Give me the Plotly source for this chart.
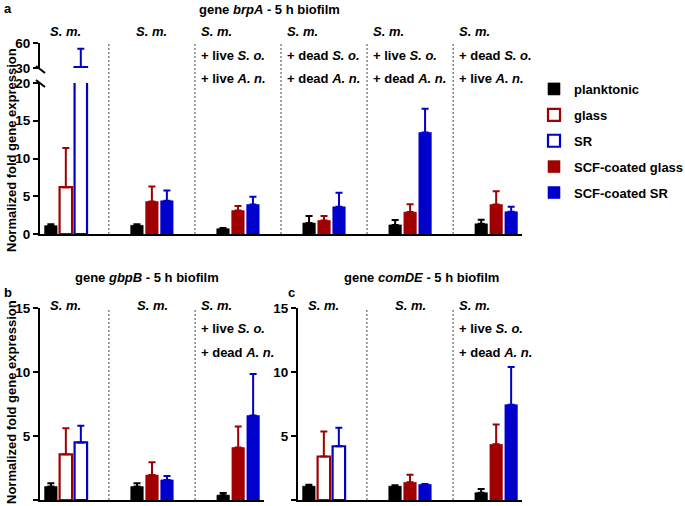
import plotly.graph_objects as go

W, H = 685, 506

# ---------------- data ----------------
series = ["planktonic", "glass", "SR", "SCF-coated glass", "SCF-coated SR"]

# panel a: gene brpA (6 groups)
a_plank = [1.1, 1.15, 0.7, 1.45, 1.2, 1.35]
a_plank_err = [1.28, 1.28, 0.8, 2.4, 1.85, 1.9]
a_glass = [6.2]
a_glass_err = [11.4]
a_sr = [31.0]
a_sr_err = [53.0]
a_scfg = [4.3, 3.1, 1.8, 2.9, 3.9]
a_scfg_err = [6.3, 3.7, 2.4, 3.95, 5.65]
a_scfs = [4.4, 3.9, 3.6, 13.45, 2.95]
a_scfs_err = [5.75, 4.95, 5.45, 16.6, 3.6]

# panel b: gene gbpB (3 groups)
b_plank = [1.05, 1.05, 0.38]
b_plank_err = [1.3, 1.3, 0.55]
b_glass = [3.57]
b_glass_err = [5.6]
b_sr = [4.5]
b_sr_err = [5.8]
b_scfg = [1.95, 4.1]
b_scfg_err = [2.95, 5.75]
b_scfs = [1.57, 6.6]
b_scfs_err = [1.87, 9.85]

# panel c: gene comDE (3 groups)
c_plank = [1.08, 1.08, 0.57]
c_plank_err = [1.2, 1.15, 0.85]
c_glass = [3.4]
c_glass_err = [5.35]
c_sr = [4.2]
c_sr_err = [5.65]
c_scfg = [1.38, 4.35]
c_scfg_err = [1.97, 5.9]
c_scfs = [1.22, 7.45]
c_scfs_err = [1.25, 10.4]

a_groups = [
    ["S. m."], ["S. m."],
    ["S. m.", "+ live S. o.", "+ live A. n."],
    ["S. m.", "+ dead S. o.", "+ dead A. n."],
    ["S. m.", "+ live S. o.", "+ dead A. n."],
    ["S. m.", "+ dead S. o.", "+ live A. n."],
]
bc_groups = [["S. m."], ["S. m."], ["S. m.", "+ live S. o.", "+ dead A. n."]]

a_yticks_low = [0, 5, 10, 15, 20]
a_yticks_high = [30, 60]
bc_yticks = [0, 5, 10, 15]

# ---------------- style ----------------
BLACK = "#000000"
RED = "#a00000"
BLUE = "#0000cc"
FONT = "Liberation Sans, Arial, sans-serif"
BW = 0.145   # bar width (group units)
SH = 0.174   # bar shift

def px(x):
    return x / W

def py(y):
    return 1 - y / H

fig = go.Figure()

def add_bars(xs, vals, errs, color, hollow, offset, xa, ya, name, legend):
    fig.add_trace(go.Bar(
        x=xs, y=vals, name=name, xaxis=xa, yaxis=ya,
        width=[BW] * len(xs), offset=offset,
        marker=dict(color="white" if hollow else color,
                    line=dict(color=color, width=2.2 if hollow else 0.6)),
        error_y=dict(type="data", symmetric=False,
                     array=[e - v for v, e in zip(vals, errs)],
                     arrayminus=[0] * len(vals),
                     color=color, thickness=2, width=3.5),
        showlegend=legend, legendgroup=name, cliponaxis=True,
    ))

def panel(plank, plank_e, glass, glass_e, sr, sr_e, scfg, scfg_e, scfs, scfs_e, xa, ya, legend):
    n = len(plank)
    add_bars(list(range(n)), plank, plank_e, BLACK, False, -SH - BW / 2, xa, ya, series[0], legend)
    add_bars([0], glass, glass_e, RED, True, -BW / 2, xa, ya, series[1], legend)
    add_bars([0], sr, sr_e, BLUE, True, SH - BW / 2, xa, ya, series[2], legend)
    add_bars(list(range(1, n)), scfg, scfg_e, RED, False, -BW / 2, xa, ya, series[3], legend)
    add_bars(list(range(1, n)), scfs, scfs_e, BLUE, False, SH - BW / 2, xa, ya, series[4], legend)

# panel a: lower and upper segment
panel(a_plank, a_plank_err, a_glass, a_glass_err, a_sr, a_sr_err,
      a_scfg, a_scfg_err, a_scfs, a_scfs_err, "x", "y", True)
panel(a_plank, a_plank_err, a_glass, a_glass_err, a_sr, a_sr_err,
      a_scfg, a_scfg_err, a_scfs, a_scfs_err, "x", "y2", False)
panel(b_plank, b_plank_err, b_glass, b_glass_err, b_sr, b_sr_err,
      b_scfg, b_scfg_err, b_scfs, b_scfs_err, "x2", "y3", False)
panel(c_plank, c_plank_err, c_glass, c_glass_err, c_sr, c_sr_err,
      c_scfg, c_scfg_err, c_scfs, c_scfs_err, "x3", "y4", False)

tickfont = dict(family=FONT, size=13.5, color="black", weight="bold")
xcommon = dict(showline=True, linecolor="black", linewidth=2, ticks="",
               showticklabels=False, showgrid=False, zeroline=False, fixedrange=True,
               automargin=False)
ycommon = dict(showline=True, linecolor="black", linewidth=2, ticks="outside",
               ticklen=5, tickwidth=2, tickcolor="black", tickfont=tickfont,
               showgrid=False, zeroline=False, fixedrange=True, automargin=False)

fig.update_layout(
    width=W, height=H, margin=dict(l=0, r=0, t=0, b=0, autoexpand=False),
    paper_bgcolor="white", plot_bgcolor="white",
    barmode="overlay",
    font=dict(family=FONT, size=13, color="black"),
    xaxis=dict(domain=[px(40), px(522)], range=[-0.3, 5.3], anchor="y", **xcommon),
    yaxis=dict(domain=[py(234), py(83)], range=[0, 20], tickvals=a_yticks_low, anchor="x", **ycommon),
    yaxis2=dict(domain=[py(68), py(43)], range=[30, 60], tickvals=a_yticks_high, anchor="x", **ycommon),
    xaxis2=dict(domain=[px(40), px(264)], range=[-0.3, 2.3], anchor="y3", **xcommon),
    yaxis3=dict(domain=[py(500), py(308)], range=[0, 15], tickvals=bc_yticks, anchor="x2", **ycommon),
    xaxis3=dict(domain=[px(298), px(522)], range=[-0.3, 2.3], anchor="y4", **xcommon),
    yaxis4=dict(domain=[py(500), py(308)], range=[0, 15], tickvals=bc_yticks, anchor="x3", **ycommon),
    legend=dict(x=px(534), y=py(74), xanchor="left", yanchor="top",
                font=dict(family=FONT, size=13, color="black", weight="bold"),
                tracegroupgap=6, bgcolor="rgba(0,0,0,0)", itemclick=False),
)

shapes = []
annotations = []

def dividers(xref, n, ytop, ybot):
    for i in range(n - 1):
        shapes.append(dict(type="line", xref=xref, yref="paper", x0=i + 0.5, x1=i + 0.5,
                           y0=py(ybot), y1=py(ytop),
                           line=dict(color="#444444", width=1, dash="2px,2px")))

dividers("x", len(a_groups), 43, 234)
dividers("x2", len(bc_groups), 308, 500)
dividers("x3", len(bc_groups), 308, 500)

def fmt(s):
    # italicise species abbreviations
    for sp in ["S. m.", "S. o.", "A. n."]:
        s = s.replace(sp, "<i>" + sp + "</i>")
    return "<b>" + s + "</b>"

def group_labels(xref, groups, ys):
    for i, lines in enumerate(groups):
        if len(lines) == 1:
            annotations.append(dict(xref=xref, yref="paper", x=i, y=py(ys[0]), text=fmt(lines[0]),
                                    showarrow=False, xanchor="center", yanchor="middle",
                                    font=dict(size=13)))
        else:
            for j, t in enumerate(lines):
                annotations.append(dict(xref=xref, yref="paper", x=i - 0.5 + 0.045, y=py(ys[j]),
                                        text=fmt(t), showarrow=False, xanchor="left",
                                        yanchor="middle", font=dict(size=13)))

group_labels("x", a_groups, [32, 55, 78])
group_labels("x2", bc_groups, [305, 328, 352])
group_labels("x3", bc_groups, [305, 328, 352])

def txt(x, y, t, **kw):
    d = dict(xref="paper", yref="paper", x=px(x), y=py(y), text=t, showarrow=False,
             xanchor="center", yanchor="middle", font=dict(size=13))
    d.update(kw)
    annotations.append(d)

txt(269, 9, "<b>gene <i>brpA</i> - 5 h biofilm</b>")
txt(147, 277, "<b>gene <i>gbpB</i> - 5 h biofilm</b>")
txt(421, 277, "<b>gene <i>comDE</i> - 5 h biofilm</b>")
txt(8, 8, "<b>a</b>")
txt(8, 292, "<b>b</b>")
txt(291, 292, "<b>c</b>")
txt(11, 150, "<b>Normalized fold gene expression</b>", textangle=-90)
txt(11, 402, "<b>Normalized fold gene expression</b>", textangle=-90)

# axis break marks
for (x0, y0, x1, y1) in [(36, 66, 45, 73), (36, 80, 45, 87)]:
    shapes.append(dict(type="line", xref="paper", yref="paper", x0=px(x0), y0=py(y0),
                       x1=px(x1), y1=py(y1), line=dict(color="black", width=2)))

fig.update_layout(shapes=shapes, annotations=annotations)

fig.write_html("out.html", config={"displayModeBar": False},
               post_script="document.body.style.margin='0';")
